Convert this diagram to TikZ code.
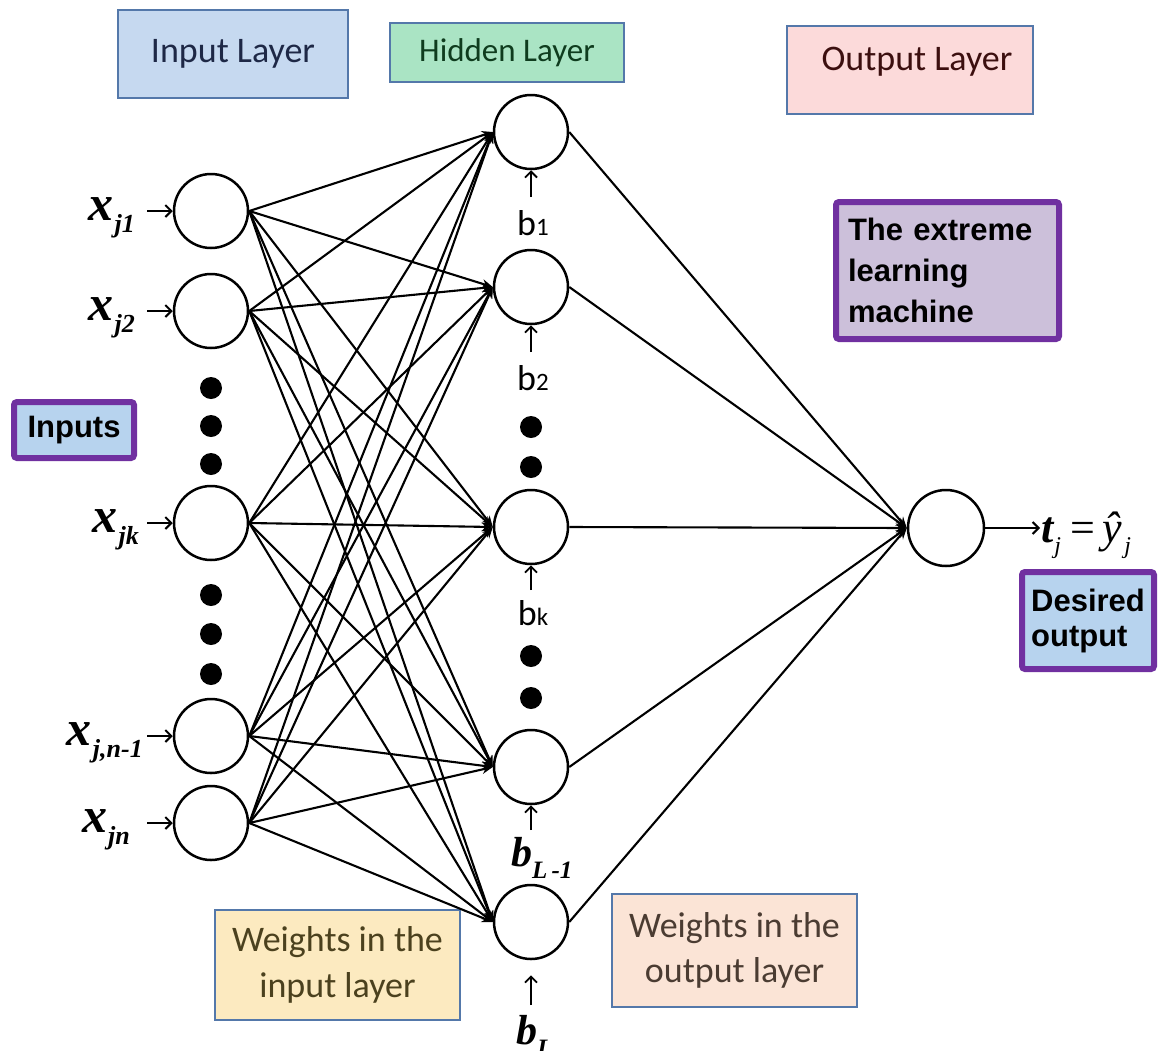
\documentclass[tikz,border=0pt]{standalone}
\usepackage{fontspec}
\setmainfont{Liberation Serif}
\newfontfamily\calfont{Carlito}
\newfontfamily\arfont{Liberation Sans}
\usetikzlibrary{arrows.meta}
\newcommand\fsz[1]{\fontsize{#1}{#1}\selectfont}
\newcommand\xlab[1]{{\fsz{50}\bfseries\itshape x}\kern1pt\raisebox{-12pt}{\fsz{26}\bfseries\itshape #1}}
\definecolor{ilfill}{RGB}{198,217,240}
\definecolor{hlfill}{RGB}{170,228,196}
\definecolor{olfill}{RGB}{252,218,218}
\definecolor{elmfill}{RGB}{204,192,218}
\definecolor{purp}{RGB}{112,48,160}
\definecolor{inpfill}{RGB}{183,211,238}
\definecolor{wifill}{RGB}{252,234,192}
\definecolor{wofill}{RGB}{251,228,214}
\definecolor{boxline}{RGB}{84,120,170}
\definecolor{iltext}{RGB}{30,40,70}
\definecolor{hltext}{RGB}{15,60,30}
\definecolor{oltext}{RGB}{60,15,15}
\definecolor{witext}{RGB}{75,65,30}
\definecolor{wotext}{RGB}{75,60,50}
\tikzset{
  neuron/.style={circle, draw=black, line width=2.5pt, minimum size=74pt, inner sep=0pt, fill=white},
  bigdot/.style={circle, fill=black, minimum size=22pt, inner sep=0pt},
  conn/.style={line width=2.1pt, -{Stealth[length=11pt,width=9pt]}},
  inarrow/.style={line width=2pt, -{Straight Barb[length=6pt,width=12pt]}},
  biasarrow/.style={line width=1.8pt, -{Straight Barb[length=6pt,width=12pt]}},
  layerbox/.style={draw=boxline, line width=1.3pt, inner sep=0pt, font=\calfont\fsz{36}},
  purpbox/.style={draw=purp, line width=6pt, rounded corners=3pt, inner sep=0pt, fill=inpfill, font=\arfont\bfseries\fontsize{31}{36}\selectfont, align=left},
  blab/.style={inner sep=0pt, anchor=base},
  xlabel/.style={inner sep=0pt, anchor=base east}
}
\begin{document}
\begin{tikzpicture}[x=1pt,y=-1pt]
\useasboundingbox (0,0) rectangle (1159,1050);
\fill[white] (0,0) rectangle (1159,1050);

% header boxes
\node[layerbox, fill=ilfill, text=iltext, minimum width=230pt, minimum height=88pt] (ilbox) at (233,54) {Input Layer};
\node[layerbox, fill=hlfill, text=hltext, minimum width=234pt, minimum height=59pt, font=\calfont\fsz{33}] (hlbox) at (507,52.5) {Hidden Layer};
\node[layerbox, fill=olfill, minimum width=246pt, minimum height=88pt] (olbox) at (910,70) {};
\node[inner sep=0pt, font=\calfont\fsz{36}, text=oltext] (oltext) at (917,62) {Output Layer};

% purple boxes
\node[purpbox, fill=elmfill, minimum width=223pt, minimum height=137pt, text width=199pt, font=\arfont\bfseries\fontsize{31}{41}\selectfont] (elm) at (947.5,270.5) {The extreme\\learning\\machine};
\node[purpbox, minimum width=120pt, minimum height=56pt] (inputs) at (74,430) {Inputs};
\node[purpbox, minimum width=132pt, minimum height=97pt, font=\arfont\bfseries\fontsize{31}{35}\selectfont] (desired) at (1088,620.5) {Desired\\output};

% bottom boxes
\node[layerbox, fill=wifill, text=witext, minimum width=245pt, minimum height=110pt, align=center, font=\calfont\fontsize{36}{46}\selectfont] (wibox) at (337.5,965) {Weights in the\\input layer};
\node[layerbox, fill=wofill, text=wotext, minimum width=245pt, minimum height=113pt, align=center, font=\calfont\fontsize{36}{45}\selectfont] (wobox) at (734.5,950.5) {Weights in the\\output layer};

% input neurons
\node[neuron] (j1) at (211,211) {};
\node[neuron] (j2) at (211,311) {};
\node[neuron] (jk) at (211,523) {};
\node[neuron] (jn1) at (211,736) {};
\node[neuron] (jn) at (211,823) {};
\foreach \y [count=\c] in {388,426,464,595,634,674} \node[bigdot] (idot\c) at (211,\y) {};

% hidden neurons
\node[neuron] (h1) at (531,132) {};
\node[neuron] (h2) at (531,287) {};
\node[neuron] (hk) at (531,527) {};
\node[neuron] (hL1) at (531,767) {};
\node[neuron] (hL) at (531,922) {};
\foreach \y [count=\c] in {427,467,656,698} \node[bigdot] (hdot\c) at (531,\y) {};

% output neuron
\node[neuron, minimum size=76pt] (out) at (946,528) {};

% input labels
\node[xlabel] (lj1) at (135,220) {\xlab{j1}};
\node[xlabel] (lj2) at (135,320) {\xlab{j2}};
\node[xlabel] (ljk) at (139,532) {\xlab{jk}};
\node[xlabel] (ljn1) at (143,745) {\xlab{j,n-1}};
\node[xlabel] (ljn) at (130,832) {\xlab{jn}};
\coordinate (aj1) at (147,211);
\coordinate (aj2) at (147,311);
\coordinate (ajk) at (147,523);
\coordinate (ajn1) at (147,736);
\coordinate (ajn) at (147,823);
\foreach \n in {j1,j2,jk,jn1,jn} \draw[inarrow] (a\n) -- (\n.west);

% connections
\foreach \i in {j1,j2,jk,jn1,jn}
  \foreach \h in {h1,h2,hk,hL1,hL}
    \draw[conn] (\i.east) -- (\h.west);
\foreach \h in {h1,h2,hk,hL1,hL}
  \draw[conn] (\h.east) -- (out.west);

% output
\coordinate (tend) at (1040,528);
\draw[inarrow] (out.east) -- (tend);
\node[inner sep=0pt, anchor=base west] (tlab) at (1041,542) {{\fsz{44}\bfseries\itshape t}\kern1pt\raisebox{-11pt}{\fsz{24}\itshape j}\kern9pt{\fsz{44}=}\kern8pt{\fsz{44}\itshape ŷ}\kern2pt\raisebox{-11pt}{\fsz{24}\itshape j}};

% biases
\node[blab] (b1) at (533,235) {\calfont\fsz{36}b\fsz{25}1};
\node[blab] (b2) at (533,390) {\calfont\fsz{36}b\fsz{25}2};
\node[blab] (bk) at (533,625) {\calfont\fsz{36}b\fsz{25}k};
\node[inner sep=0pt, anchor=base west] (bL1) at (511,866) {{\fsz{42}\bfseries\itshape b}\raisebox{-12pt}{\fsz{25}\bfseries\itshape L\,-1}};
\node[inner sep=0pt, anchor=base west] (bL) at (516,1044) {{\fsz{42}\bfseries\itshape b}\raisebox{-12pt}{\fsz{25}\bfseries\itshape L}};
\coordinate (ab1) at (531,197);
\coordinate (ab2) at (531,352);
\coordinate (abk) at (531,590);
\coordinate (abL1) at (531,830);
\coordinate (abL) at (531,1005);
\draw[biasarrow] (ab1) -- (h1.south);
\draw[biasarrow] (ab2) -- (h2.south);
\draw[biasarrow] (abk) -- (hk.south);
\draw[biasarrow] (abL1) -- (hL1.south);
\draw[biasarrow, shorten >=15pt] (abL) -- (hL.south);
\end{tikzpicture}
\end{document}
